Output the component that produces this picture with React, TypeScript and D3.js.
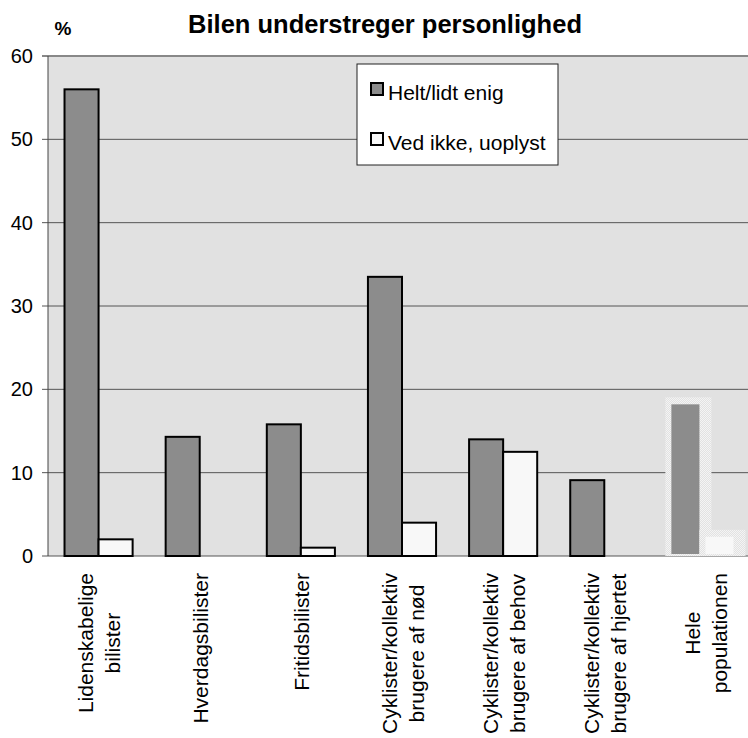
import React, { useEffect, useRef } from 'react'
import * as d3 from 'd3'

const categories = [
  ['Lidenskabelige', 'bilister'],
  ['Hverdagsbilister'],
  ['Fritidsbilister'],
  ['Cyklister/kollektiv', 'brugere af nød'],
  ['Cyklister/kollektiv', 'brugere af behov'],
  ['Cyklister/kollektiv', 'brugere af hjertet'],
  ['Hele', 'populationen'],
]
const seriesNames = ['Helt/lidt enig', 'Ved ikke, uoplyst']
const enig = [56, 14.3, 15.8, 33.5, 14, 9.1, 18.2]
const vedIkke = [2, 0, 1, 4, 12.5, 0, 2.3]
const yTicks = [0, 10, 20, 30, 40, 50, 60]
const colors = ['#8c8c8c', '#f8f8f8']

const FONT = 'Liberation Sans, Arial, sans-serif'

const App = () => {
  const svgRef = useRef<SVGSVGElement>(null)

  useEffect(() => {
    document.body.style.margin = '0'
    const svg = d3.select(svgRef.current)
    svg.selectAll('*').remove()

    const W = 748
    const left = 48
    const top = 56
    const bottom = 556
    const right = 756

    const x = d3
      .scaleBand()
      .domain(categories.map((d, i) => String(i)))
      .range([left, right])
    const inner = d3
      .scaleBand()
      .domain(['0', '1'])
      .range([0, x.bandwidth()])
      .paddingOuter(0.485)
      .paddingInner(0)
    const y = d3.scaleLinear().domain([0, 60]).range([bottom, top])

    const defs = svg.append('defs')
    const pat = defs
      .append('pattern')
      .attr('id', 'dither')
      .attr('width', 2)
      .attr('height', 2)
      .attr('patternUnits', 'userSpaceOnUse')
    pat.append('rect').attr('width', 2).attr('height', 2).attr('fill', '#e2e2e2')
    pat.append('rect').attr('width', 1).attr('height', 1).attr('fill', '#f4f4f4')
    pat.append('rect').attr('x', 1).attr('y', 1).attr('width', 1).attr('height', 1).attr('fill', '#f4f4f4')

    // plot background
    svg
      .append('rect')
      .attr('x', left)
      .attr('y', top)
      .attr('width', W - left)
      .attr('height', bottom - top)
      .attr('fill', '#e1e1e1')

    // gridlines
    svg
      .append('g')
      .selectAll('line')
      .data(yTicks)
      .enter()
      .append('line')
      .attr('x1', left - 6)
      .attr('x2', W)
      .attr('y1', (d) => y(d))
      .attr('y2', (d) => y(d))
      .attr('stroke', (d) => (d === 60 ? '#888' : '#555'))
      .attr('stroke-width', (d) => (d === 60 ? 2 : 1))

    svg
      .append('line')
      .attr('x1', left)
      .attr('x2', left)
      .attr('y1', top)
      .attr('y2', bottom)
      .attr('stroke', '#444')

    svg
      .append('g')
      .selectAll('text')
      .data(yTicks)
      .enter()
      .append('text')
      .attr('x', 33)
      .attr('y', (d) => y(d) + 7)
      .attr('text-anchor', 'end')
      .attr('font-family', FONT)
      .attr('font-size', 20)
      .text((d) => d)

    const series = [enig, vedIkke]
    const last = categories.length - 1

    series.forEach((vals, s) => {
      const g = svg.append('g')
      vals.forEach((v, i) => {
        if (v <= 0) return
        const bx = x(String(i))! + inner(String(s))!
        const bw = inner.bandwidth()
        if (i === last) {
          g.append('rect')
            .attr('x', bx - 6)
            .attr('y', y(v) - 7)
            .attr('width', bw + 12)
            .attr('height', bottom - y(v) + 7)
            .attr('fill', 'url(#dither)')
          g.append('rect')
            .attr('x', bx)
            .attr('y', y(v))
            .attr('width', bw - 6)
            .attr('height', bottom - y(v) - 2)
            .attr('fill', colors[s])
        } else {
          g.append('rect')
            .attr('x', bx)
            .attr('y', y(v))
            .attr('width', bw)
            .attr('height', bottom - y(v))
            .attr('fill', colors[s])
            .attr('stroke', '#000')
            .attr('stroke-width', 2)
        }
      })
    })

    // x labels: block top-aligned, lines centred within the block
    categories.forEach((lines, i) => {
      const cx = x(String(i))! + x.bandwidth() / 2
      const n = lines.length
      const g = svg.append('g').attr('transform', `translate(${cx},573) rotate(-90)`)
      const texts = lines.map((ln, j) =>
        g
          .append('text')
          .attr('y', (j - (n - 1) / 2) * 27 + 8)
          .attr('text-anchor', 'middle')
          .attr('font-family', FONT)
          .attr('font-size', 21)
          .text(ln)
      )
      const maxLen = d3.max(texts, (t) => (t.node() as SVGTextElement).getComputedTextLength()) || 0
      texts.forEach((t) => t.attr('x', -maxLen / 2))
    })

    // legend
    const lg = svg.append('g').attr('transform', 'translate(357,64)')
    lg.append('rect')
      .attr('width', 201)
      .attr('height', 101)
      .attr('fill', '#fff')
      .attr('stroke', '#222')
      .attr('stroke-width', 1)
    seriesNames.forEach((name, i) => {
      lg.append('rect')
        .attr('x', 14)
        .attr('y', 19 + i * 50)
        .attr('width', 12)
        .attr('height', 12)
        .attr('fill', colors[i])
        .attr('stroke', '#000')
        .attr('stroke-width', 2)
      lg.append('text')
        .attr('x', 31)
        .attr('y', 36 + i * 50)
        .attr('font-family', FONT)
        .attr('font-size', 21)
        .text(name)
    })

    svg
      .append('text')
      .attr('x', 385)
      .attr('y', 33)
      .attr('text-anchor', 'middle')
      .attr('font-family', FONT)
      .attr('font-weight', 'bold')
      .attr('font-size', 25.5)
      .text('Bilen understreger personlighed')

    svg
      .append('text')
      .attr('x', 63)
      .attr('y', 35)
      .attr('text-anchor', 'middle')
      .attr('font-family', FONT)
      .attr('font-weight', 'bold')
      .attr('font-size', 19)
      .text('%')
  }, [])

  return <svg ref={svgRef} width={748} height={738} style={{ display: 'block', background: '#fff' }}></svg>
}

export default App
